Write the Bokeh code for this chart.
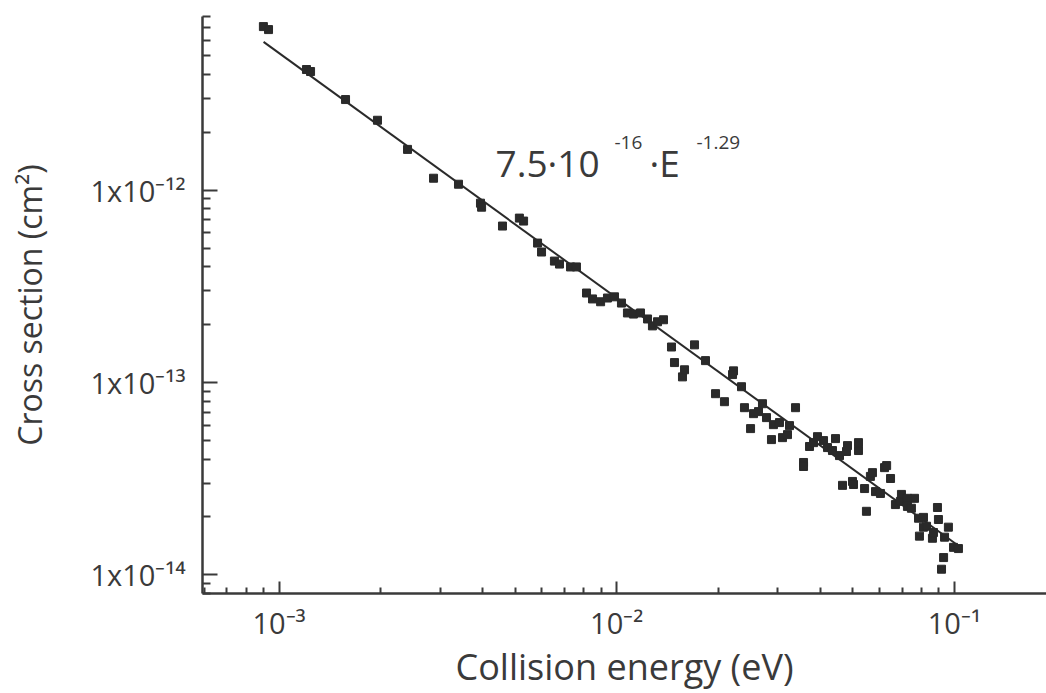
from bokeh.plotting import figure
from bokeh.models import FixedTicker, Label, Range1d
from bokeh.embed import file_html
from bokeh.resources import INLINE

# ---- data (energy in eV, cross section in cm^2) ----
energy = [
    8.99e-4, 9.31e-4, 1.206e-3, 1.240e-3, 1.574e-3, 1.957e-3, 2.402e-3, 2.868e-3,
    3.40e-3, 3.95e-3, 3.98e-3, 4.59e-3, 5.15e-3, 5.30e-3, 5.83e-3, 5.99e-3,
    6.54e-3, 6.77e-3, 7.30e-3, 7.60e-3, 8.14e-3, 8.48e-3, 8.96e-3, 9.39e-3,
    9.85e-3, 1.033e-2, 1.076e-2, 1.121e-2, 1.176e-2, 1.234e-2, 1.276e-2, 1.321e-2,
    1.376e-2, 1.453e-2, 1.483e-2, 1.566e-2, 1.588e-2, 1.700e-2, 1.832e-2, 1.962e-2,
    2.085e-2, 2.218e-2, 2.203e-2, 2.342e-2, 2.390e-2, 2.542e-2, 2.630e-2, 2.702e-2,
    2.777e-2, 2.491e-2, 2.873e-2, 2.912e-2, 3.034e-2, 3.097e-2, 3.205e-2, 3.249e-2,
    3.385e-2, 3.575e-2, 3.575e-2, 3.724e-2, 3.827e-2, 3.932e-2, 4.097e-2, 4.210e-2,
    4.355e-2, 4.446e-2, 4.569e-2, 4.792e-2, 4.825e-2, 5.200e-2, 5.200e-2, 4.663e-2,
    4.992e-2, 5.026e-2, 5.42e-2, 5.64e-2, 5.72e-2, 5.84e-2, 6.04e-2, 6.21e-2,
    6.30e-2, 6.47e-2, 5.49e-2, 6.69e-2, 6.92e-2, 6.97e-2, 7.26e-2, 7.62e-2,
    7.26e-2, 7.46e-2, 7.83e-2, 8.10e-2, 8.10e-2, 8.27e-2, 7.88e-2, 8.91e-2,
    8.97e-2, 8.61e-2, 8.67e-2, 9.35e-2, 9.60e-2, 9.94e-2, 1.028e-1, 9.29e-2,
    9.16e-2,
]
cross_section = [
    7.09e-12, 6.84e-12, 4.24e-12, 4.14e-12, 2.96e-12, 2.31e-12, 1.63e-12, 1.154e-12,
    1.074e-12, 8.56e-13, 8.16e-13, 6.51e-13, 7.16e-13, 6.91e-13, 5.31e-13, 4.77e-13,
    4.28e-13, 4.13e-13, 3.99e-13, 3.99e-13, 2.92e-13, 2.72e-13, 2.63e-13, 2.75e-13,
    2.79e-13, 2.59e-13, 2.30e-13, 2.27e-13, 2.30e-13, 2.14e-13, 1.97e-13, 2.07e-13,
    2.12e-13, 1.53e-13, 1.27e-13, 1.07e-13, 1.165e-13, 1.57e-13, 1.30e-13, 8.75e-14,
    7.95e-14, 1.15e-13, 1.10e-13, 9.51e-14, 7.40e-14, 6.89e-14, 7.06e-14, 7.76e-14,
    6.57e-14, 5.76e-14, 5.05e-14, 6.04e-14, 6.19e-14, 5.17e-14, 5.36e-14, 5.97e-14,
    7.40e-14, 3.84e-14, 3.66e-14, 4.65e-14, 4.87e-14, 5.23e-14, 4.99e-14, 4.59e-14,
    4.43e-14, 5.11e-14, 4.17e-14, 4.38e-14, 4.70e-14, 4.87e-14, 4.43e-14, 2.92e-14,
    3.06e-14, 2.95e-14, 2.81e-14, 3.25e-14, 3.40e-14, 2.71e-14, 2.65e-14, 3.61e-14,
    3.70e-14, 3.17e-14, 2.14e-14, 2.32e-14, 2.41e-14, 2.62e-14, 2.50e-14, 2.50e-14,
    2.27e-14, 2.22e-14, 1.97e-14, 1.99e-14, 1.77e-14, 1.79e-14, 1.59e-14, 2.24e-14,
    1.94e-14, 1.55e-14, 1.66e-14, 1.57e-14, 1.77e-14, 1.39e-14, 1.37e-14, 1.23e-14,
    1.07e-14,
]

# fitted power law line (end points)
fit_energy = [9.0e-4, 0.105]
fit_cross_section = [5.9e-12, 1.38e-14]

# ticks and texts
x_tick_values = [1e-3, 1e-2, 1e-1]
x_tick_labels = ["10⁻³", "10⁻²", "10⁻¹"]
y_tick_values = [1e-14, 1e-13, 1e-12]
y_tick_labels = ["1x10⁻¹⁴", "1x10⁻¹³", "1x10⁻¹²"]
x_title = "Collision energy (eV)"
y_title = "Cross section (cm²)"
fit_base = "7.5·10"
fit_exp1 = "-16"
fit_mid = "·E"
fit_exp2 = "-1.29"

INK = "#2a2a2a"
AXIS = "#3a3a3a"
TEXT = "#3a3a3a"
FONT = "Open Sans"

p = figure(
    width=1046, height=693,
    x_axis_type="log", y_axis_type="log",
    x_range=Range1d(5.935e-4, 0.1874), y_range=Range1d(8e-15, 8e-12),
    output_backend="svg", toolbar_location=None,
    min_border_left=202, min_border_right=0, min_border_top=16, min_border_bottom=99,
)
p.outline_line_color = None
p.xgrid.visible = False
p.ygrid.visible = False
p.background_fill_color = "white"
p.border_fill_color = "white"

x_minor = [m * 10.0 ** e for e in (-4, -3, -2, -1) for m in range(2, 10)]
y_minor = [m * 10.0 ** e for e in (-15, -14, -13, -12) for m in range(2, 10)]
p.xaxis.ticker = FixedTicker(ticks=x_tick_values, minor_ticks=x_minor)
p.yaxis.ticker = FixedTicker(ticks=y_tick_values, minor_ticks=y_minor)
p.xaxis.major_label_overrides = dict(zip(x_tick_values, x_tick_labels))
p.yaxis.major_label_overrides = dict(zip(y_tick_values, y_tick_labels))

for ax in (p.xaxis[0], p.yaxis[0]):
    ax.axis_line_color = AXIS
    ax.axis_line_width = 2.5
    ax.major_tick_line_color = AXIS
    ax.minor_tick_line_color = AXIS
    ax.major_tick_line_width = 2
    ax.minor_tick_line_width = 2
    ax.major_tick_out = 0
    ax.minor_tick_out = 0
    ax.major_label_text_font = FONT
    ax.major_label_text_font_size = "29px"
    ax.major_label_text_color = TEXT
    ax.axis_label_text_font = FONT
    ax.axis_label_text_font_style = "normal"
    ax.axis_label_text_color = TEXT

p.xaxis.axis_label = x_title
p.yaxis.axis_label = y_title
p.xaxis.major_tick_in = 12
p.xaxis.minor_tick_in = 6
p.xaxis.major_label_standoff = 9
p.xaxis.axis_label_standoff = -3
p.xaxis.axis_label_text_font_size = "36px"
p.yaxis.major_tick_in = 15
p.yaxis.minor_tick_in = 8
p.yaxis.major_label_standoff = 17
p.yaxis.axis_label_standoff = 36
p.yaxis.axis_label_text_font_size = "32px"

p.line(fit_energy, fit_cross_section, line_color=INK, line_width=2)
p.scatter(energy, cross_section, marker="square", size=8,
          fill_color=INK, line_color=INK)

def add_text(x, y, text, size):
    p.add_layout(Label(x=x, y=y, text=text, text_font=FONT, text_font_size=size,
                       text_color=TEXT, text_align="left", text_baseline="alphabetic"))

add_text(4.377e-3, 1.397e-12, fit_base, "37px")
add_text(9.85e-3, 1.774e-12, fit_exp1, "19px")
add_text(1.251e-2, 1.397e-12, fit_mid, "37px")
add_text(1.722e-2, 1.774e-12, fit_exp2, "19px")

open("out.html", "w").write(file_html(p, INLINE))
